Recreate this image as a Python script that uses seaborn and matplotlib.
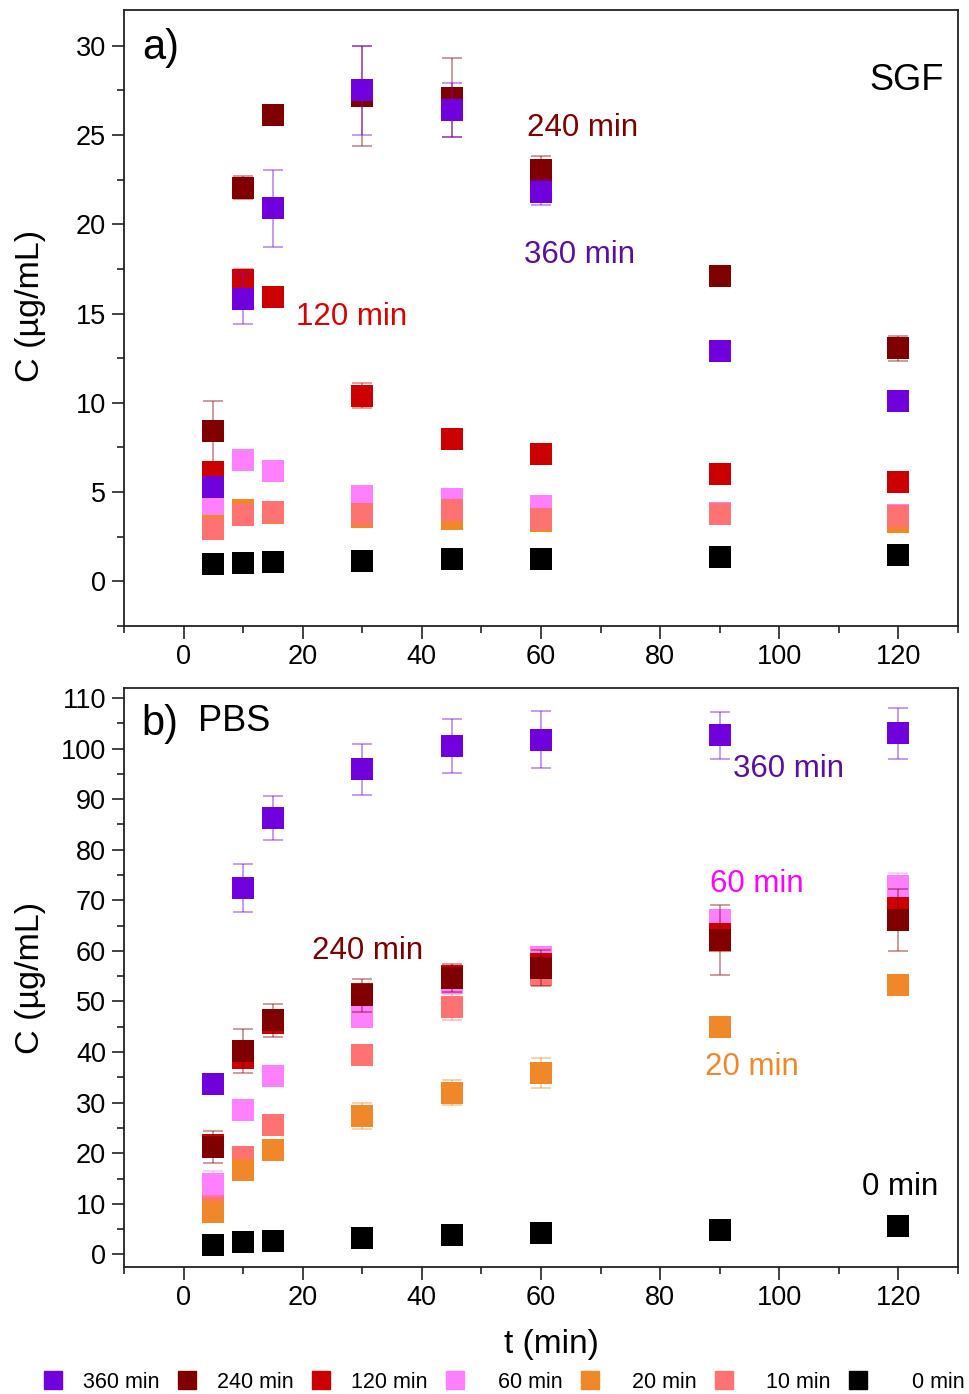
import numpy as np
import pandas as pd
import matplotlib
matplotlib.use("Agg")
import matplotlib.pyplot as plt
import seaborn as sns
from matplotlib.lines import Line2D
from matplotlib.ticker import MultipleLocator

# sampling times (min)
times = [5, 10, 15, 30, 45, 60, 90, 120]
series = ["360 min", "240 min", "120 min", "60 min", "20 min", "10 min", "0 min"]
colors = {
    "360 min": "#7000dc",
    "240 min": "#800000",
    "120 min": "#cc0000",
    "60 min": "#ff80ff",
    "20 min": "#f0882a",
    "10 min": "#ff7272",
    "0 min": "#000000",
}

# --- SGF (panel a) ---
sgf = {
    "360 min": [5.3, 15.8, 20.9, 27.5, 26.4, 21.8, 12.9, 10.1],
    "240 min": [8.4, 22.05, 26.1, 27.2, 27.1, 23.05, 17.1, 13.05],
    "120 min": [6.1, 16.9, 15.95, 10.4, 8.0, 7.16, 6.04, 5.56],
    "60 min": [4.3, 6.78, 6.16, 4.8, 4.6, 4.2, 3.85, 3.7],
    "20 min": [3.1, 4.0, 3.85, 3.6, 3.5, 3.4, 3.8, 3.3],
    "10 min": [2.93, 3.7, 3.89, 3.79, 4.02, 3.49, 3.75, 3.66],
    "0 min": [0.97, 1.01, 1.07, 1.12, 1.24, 1.23, 1.39, 1.46],
}
sgf_err = {
    "360 min": [0.3, 1.4, 2.15, 2.5, 1.5, 0.7, 0.3, 0.3],
    "240 min": [1.7, 0.65, 0.3, 2.8, 2.2, 0.8, 0.5, 0.7],
    "120 min": [0.3, 0.6, 0.2, 0.7, 0.2, 0.2, 0.2, 0.2],
    "60 min": [0.2] * 8,
    "20 min": [0.2] * 8,
    "10 min": [0.2] * 8,
    "0 min": [0.2] * 8,
}

# --- PBS (panel b) ---
pbs = {
    "360 min": [33.6, 72.4, 86.3, 95.9, 100.5, 101.8, 102.6, 103.0],
    "240 min": [21.2, 40.2, 46.3, 51.2, 54.6, 56.6, 62.2, 66.1],
    "120 min": [21.6, 38.9, 45.8, 51.5, 55.0, 57.5, 63.4, 68.5],
    "60 min": [14.0, 28.5, 35.3, 46.9, 53.7, 58.8, 66.2, 72.9],
    "20 min": [8.3, 16.6, 20.6, 27.3, 32.0, 35.8, 44.9, 53.3],
    "10 min": [11.1, 19.2, 25.6, 39.5, 48.9, 55.3, 62.0, 70.0],
    "0 min": [1.87, 2.53, 2.73, 3.22, 3.8, 4.2, 4.84, 5.56],
}
pbs_err = {
    "360 min": [0.5, 4.8, 4.4, 5.0, 5.3, 5.6, 4.6, 5.0],
    "240 min": [3.1, 4.3, 3.3, 3.3, 2.8, 3.6, 6.9, 6.1],
    "120 min": [0.5] * 8,
    "60 min": [2.5, 1.0, 1.0, 1.0, 1.0, 1.0, 1.0, 2.6],
    "20 min": [1.0, 1.0, 1.0, 2.6, 2.5, 3.0, 1.0, 1.0],
    "10 min": [1.0, 1.0, 1.0, 1.0, 2.5, 1.0, 1.0, 1.0],
    "0 min": [0.3] * 8,
}

# drawing order (later = on top)
sgf_order = ["0 min", "240 min", "120 min", "60 min", "20 min", "10 min", "360 min"]
pbs_order = ["10 min", "60 min", "20 min", "120 min", "240 min", "360 min", "0 min"]

sns.set_theme(style="ticks")
plt.rcParams["font.family"] = ["Liberation Sans", "DejaVu Sans"]
plt.rcParams.update({"text.color": "black", "axes.labelcolor": "black",
                     "xtick.color": "black", "ytick.color": "black"})

fig = plt.figure(figsize=(9.7, 13.94), dpi=100)
ax1 = fig.add_axes([0.1278, 0.5509, 0.8598, 0.4419])
ax2 = fig.add_axes([0.1278, 0.0911, 0.8598, 0.4154])


def draw_panel(ax, values, errors, order):
    for z, name in enumerate(order):
        df = pd.DataFrame({"t": times, "C": values[name], "sd": errors[name]})
        c = colors[name]
        ax.errorbar(df["t"], df["C"], yerr=df["sd"], fmt="none", ecolor=c,
                    alpha=0.5, elinewidth=1.1, capsize=7, capthick=1.1,
                    zorder=3 + 2 * z)
        sns.scatterplot(data=df, x="t", y="C", marker="s", s=235, color=c,
                        linewidth=0, ax=ax, legend=False, zorder=4 + 2 * z)


draw_panel(ax1, sgf, sgf_err, sgf_order)
draw_panel(ax2, pbs, pbs_err, pbs_order)

for ax in (ax1, ax2):
    ax.set_xlim(-10, 130)
    ax.xaxis.set_major_locator(MultipleLocator(20))
    ax.xaxis.set_minor_locator(MultipleLocator(10))
    ax.tick_params(axis="both", which="major", direction="out", length=9,
                   width=1.2, labelsize=19.5, color="#222222",
                   labelcolor="black", pad=4)
    ax.tick_params(axis="both", which="minor", direction="out", length=5,
                   width=1.2, color="#222222")
    ax.tick_params(top=False, right=False, which="both")
    for sp in ax.spines.values():
        sp.set_visible(True)
        sp.set_linewidth(1.3)
        sp.set_color("#222222")
    ax.set_ylabel("C (\u00b5g/mL)", fontsize=24.5, color="black")

ax1.yaxis.set_label_coords(-0.093, 0.52)
ax2.yaxis.set_label_coords(-0.093, 0.5)

ax1.set_ylim(-2.5, 32)
ax1.yaxis.set_major_locator(MultipleLocator(5))
ax1.yaxis.set_minor_locator(MultipleLocator(2.5))
ax1.set_xlabel("")

ax2.set_ylim(-2.5, 112)
ax2.yaxis.set_major_locator(MultipleLocator(10))
ax2.yaxis.set_minor_locator(MultipleLocator(5))
ax2.set_xlabel("t (min)", fontsize=24, color="black")
ax2.xaxis.set_label_coords(0.513, -0.107)

# panel annotations
ax1.text(-7, 29.9, "a)", fontsize=30, va="center", ha="left")
ax1.text(127.7, 28.05, "SGF", fontsize=26, va="center", ha="right")
ax1.text(57.6, 25.4, "240 min", fontsize=22.5, color="#800000", va="center")
ax1.text(57.1, 18.3, "360 min", fontsize=22.5, color="#5a0fa0", va="center")
ax1.text(18.9, 14.8, "120 min", fontsize=22.5, color="#dd0000", va="center")

ax2.text(-7, 104.9, "b)", fontsize=30, va="center", ha="left")
ax2.text(2.4, 105.3, "PBS", fontsize=26, va="center", ha="left")
ax2.text(92.3, 96.0, "360 min", fontsize=22.5, color="#5a0fa0", va="center")
ax2.text(88.3, 73.3, "60 min", fontsize=22.5, color="#ff00ff", va="center")
ax2.text(21.5, 60.0, "240 min", fontsize=22.5, color="#800000", va="center")
ax2.text(87.6, 37.0, "20 min", fontsize=22.5, color="#f0882a", va="center")
ax2.text(126.7, 13.3, "0 min", fontsize=22.5, color="black", va="center", ha="right")

# legend labels right-aligned inside equal columns (figure spaces as padding)
pad = {"360 min": 0, "240 min": 0, "120 min": 0, "60 min": 1, "20 min": 1, "10 min": 1, "0 min": 2}
labels = ["\u2007" * pad[n] + n for n in series]
handles = [Line2D([], [], marker="s", ls="", color=colors[n], markersize=13) for n in series]
fig.legend(handles, labels, loc="lower center", bbox_to_anchor=(0.519, -0.013),
           ncol=7, frameon=False, fontsize=15.5, handletextpad=0.9,
           columnspacing=0.78, handlelength=1.0)

fig.savefig("out.png", dpi=100)
